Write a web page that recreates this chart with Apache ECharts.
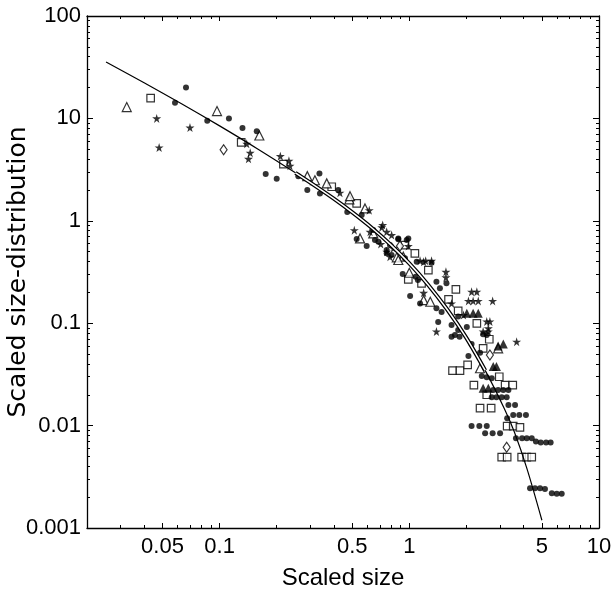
<!DOCTYPE html>
<html>
<head>
<meta charset="utf-8">
<script src="https://cdn.jsdelivr.net/npm/echarts@6/dist/echarts.min.js"></script>
<style>
html,body{margin:0;padding:0;background:#fff;}
#chart{width:611px;height:591px;}
</style>
</head>
<body>
<div id="chart"></div>
<script>
// ---- data ----
const tickX = [0.05, 0.1, 0.5, 1, 5, 10];
const minorX = [0.03,0.04,0.06,0.07,0.08,0.09,0.2,0.3,0.4,0.6,0.7,0.8,0.9,2,3,4,6,7,8,9];
const tickY = [0.001, 0.01, 0.1, 1, 10, 100];
const minorY = [0.002,0.003,0.004,0.005,0.006,0.007,0.008,0.009,
  0.02,0.03,0.04,0.05,0.06,0.07,0.08,0.09,
  0.2,0.3,0.4,0.5,0.6,0.7,0.8,0.9,
  2,3,4,5,6,7,8,9,20,30,40,50,60,70,80,90];

const fitX = [0.0252, 0.04, 0.063, 0.1, 0.158, 0.251, 0.316, 0.398, 0.501, 0.631, 0.794, 1.0, 1.259, 1.585, 1.995, 2.512, 3.162, 3.58, 4.17, 5.0];
const fitY = [35.5, 22.3, 13.9, 8.45, 5.06, 2.94, 2.22, 1.655, 1.21, 0.861, 0.589, 0.384, 0.2366, 0.136, 0.0723, 0.0346, 0.01476, 0.00865, 0.0038, 0.00119];

const circles = [
  [0.0665,20.0],[0.0582,14.2],[0.0861,9.46],[0.112,10.0],[0.132,8.08],[0.157,7.5],
  [0.175,2.86],[0.200,2.57],[0.260,2.73],[0.290,2.0],
  [0.336,2.90],[0.338,1.85],[0.422,2.0],[0.471,1.22],[0.561,1.14],[0.528,0.663],[0.596,0.567],
  [0.659,0.648],[0.687,0.624],[0.760,0.518],[0.807,0.463],[0.969,0.648],[0.875,0.659],
  [0.646,0.811],[0.875,0.673],[0.988,0.673],[0.791,0.579],[0.760,0.481],[0.949,0.43],
  [1.094,0.398],[1.31,0.389],[0.923,0.302],[1.08,0.284],[1.11,0.264],[1.39,0.254],[1.57,0.245],
  [1.01,0.184],[1.45,0.219],[1.14,0.156],[1.39,0.14],[1.48,0.129],[1.81,0.116],[1.42,0.103],
  [1.67,0.096],[1.74,0.0767],[2.01,0.092],[1.81,0.0859],[2.45,0.078],[2.56,0.0765],[1.67,0.0738],
  [1.84,0.0738],[2.13,0.0627],[2.36,0.0515],[2.05,0.0479],
  [2.41,0.0305],[2.56,0.0296],[2.72,0.029],
  [2.77,0.0223],[2.94,0.0223],[3.13,0.0223],[3.33,0.0223],
  [2.72,0.0189],[2.88,0.0189],[3.07,0.0189],[3.26,0.0189],
  [3.33,0.0159],[3.61,0.0159],[3.53,0.0127],[3.80,0.0127],[4.12,0.0127],[3.28,0.0118],
  [2.13,0.00993],[2.34,0.00993],[2.56,0.00993],
  [2.51,0.00843],[2.75,0.00843],[3.01,0.00843],
  [3.65,0.00754],[3.93,0.00754],[4.16,0.00754],[4.42,0.00754],[4.65,0.00698],
  [4.93,0.00683],[5.26,0.00683],[5.56,0.00683],
  [4.33,0.00245],[4.60,0.00245],[4.89,0.00245],[5.19,0.0024],[5.64,0.00219],[5.99,0.00216],[6.36,0.00216]
];
const stars = [
  [0.0466,10.0],[0.0698,8.15],[0.048,5.2],[0.139,5.64],[0.145,4.61],[0.142,4.03],
  [0.209,4.28],[0.232,3.85],[0.235,3.44],
  [0.431,1.88],[0.615,1.27],[0.513,0.81],[0.621,0.78],[0.716,0.862],[0.760,0.78],[0.807,0.725],
  [0.707,0.593],[0.824,0.538],[0.988,0.567],[0.724,0.908],[0.760,0.499],[0.791,0.446],
  [1.14,0.407],[1.22,0.407],[1.31,0.407],[1.19,0.398],[1.56,0.318],[1.56,0.28],[1.19,0.198],
  [2.13,0.203],[2.27,0.203],[2.75,0.165],[1.67,0.156],[2.05,0.165],[2.17,0.165],[2.31,0.165],
  [1.93,0.12],[1.39,0.083],[2.56,0.104],[2.66,0.104],[2.61,0.089],[2.45,0.083],[2.61,0.083],[3.68,0.066]
];
const triangles = [
  [0.0324,12.9],[0.0969,11.8],[0.162,6.81],[0.290,2.73],[0.318,2.49],[0.367,2.32],[0.483,1.62],
  [0.487,1.74],[0.584,1.32],[0.550,0.673],[0.646,0.753],[0.859,0.44],[0.930,0.446],[0.875,0.414],
  [1.0,0.311],[1.19,0.168],[1.29,0.162],[2.36,0.0363],[2.94,0.0569]
];
const filledTriangles = [
  [2.01,0.125],[2.17,0.125],[2.31,0.125],[2.94,0.06],[3.13,0.0627],[2.77,0.0377],[2.88,0.0377],
  [2.45,0.0232],[2.61,0.0232]
];
const squares = [
  [0.0433,15.8],[0.130,5.82],[0.217,3.57],[0.390,2.15],[0.528,1.48],[0.949,0.579],[1.07,0.481],
  [1.26,0.33],[0.988,0.268],[1.16,0.245],[1.76,0.214],[1.61,0.171],[1.81,0.132],[2.27,0.0998],
  [2.64,0.0697],[2.45,0.0569],[1.69,0.0344],[1.85,0.0344],[2.03,0.0391],[2.98,0.030],[2.19,0.0249],
  [3.2,0.0249],[3.51,0.0249],[2.56,0.02],[2.36,0.0148],[2.70,0.0148],[3.28,0.0099],[3.53,0.0099],
  [3.83,0.0096],[3.07,0.00492],[3.28,0.00492],[3.91,0.00492],[4.16,0.00492],[4.42,0.00492]
];
const diamonds = [[0.105,4.93],[0.893,0.567],[2.66,0.049],[3.26,0.00615]];

const xTitle = 'Scaled size';
const yTitle = 'Scaled size-distribution';

// ---- chart ----
const FONT = 'Liberation Sans, Arial, Helvetica, sans-serif';
const fitData = fitX.map((x, i) => [x, fitY[i]]);
const fitMid = fitData.filter(p => p[0] >= 0.25 && p[0] <= 2.6);
const starPath = 'path://M50,0 L61,35 L98,35 L68,57 L79,91 L50,70 L21,91 L32,57 L2,35 L39,35 Z';
const fmt = v => String(+(+v).toPrecision(3));

function xAxisCfg(pos, ticks, len, labels, line) {
  return {
    type: 'log', logBase: 10, min: 0.02, max: 10, position: pos, gridIndex: 0,
    axisLine: { show: line, onZero: false, lineStyle: { color: '#000', width: 1.3 } },
    axisTick: { show: true, inside: true, length: len, customValues: ticks, lineStyle: { color: '#000', width: 1 } },
    axisLabel: labels ? { show: true, customValues: ticks, color: '#000', fontSize: 22, fontFamily: FONT, margin: 8, formatter: fmt } : { show: false },
    splitLine: { show: false }, minorTick: { show: false }
  };
}
function yAxisCfg(pos, ticks, len, labels, line) {
  return {
    type: 'log', logBase: 10, min: 0.001, max: 100, position: pos, gridIndex: 0,
    axisLine: { show: line, onZero: false, lineStyle: { color: '#000', width: 1.3 } },
    axisTick: { show: true, inside: true, length: len, customValues: ticks, lineStyle: { color: '#000', width: 1 } },
    axisLabel: labels ? { show: true, customValues: ticks, color: '#000', fontSize: 22, fontFamily: FONT, margin: 6, formatter: fmt } : { show: false },
    splitLine: { show: false }, minorTick: { show: false }
  };
}

const xMain = xAxisCfg('bottom', tickX, 5, true, true);
xMain.name = xTitle; xMain.nameLocation = 'middle'; xMain.nameGap = 38;
xMain.nameTextStyle = { color: '#000', fontSize: 24, fontFamily: FONT };
const yMain = yAxisCfg('left', tickY, 6, true, true);
yMain.name = yTitle; yMain.nameLocation = 'middle'; yMain.nameGap = 56;
yMain.nameMoveOverlap = false;
yMain.nameTextStyle = { color: '#000', fontSize: 25, fontFamily: 'DejaVu Sans, ' + FONT };

const chart = echarts.init(document.getElementById('chart'), null, { renderer: 'canvas' });
const openStyle = { color: '#fff', borderColor: '#000', borderWidth: 1.2 };
chart.setOption({
  backgroundColor: '#fff',
  animation: false,
  grid: { left: 87, right: 12, top: 16, bottom: 63, containLabel: false, outerBoundsMode: 'none' },
  xAxis: [
    xMain,
    xAxisCfg('bottom', minorX, 3, false, false),
    xAxisCfg('top', tickX, 5, false, true),
    xAxisCfg('top', minorX, 3, false, false)
  ],
  yAxis: [
    yMain,
    yAxisCfg('left', minorY, 3, false, false),
    yAxisCfg('right', tickY, 6, false, true),
    yAxisCfg('right', minorY, 3, false, false)
  ],
  series: [
    { type: 'scatter', name: 'squares', data: squares, symbol: 'rect', symbolSize: 7.5, itemStyle: openStyle },
    { type: 'scatter', name: 'triangles', data: triangles, symbol: 'triangle', symbolSize: 9, itemStyle: openStyle },
    { type: 'scatter', name: 'diamonds', data: diamonds, symbol: 'diamond', symbolSize: [7, 10], itemStyle: openStyle },
    { type: 'scatter', name: 'circles', data: circles, symbol: 'circle', symbolSize: 6, itemStyle: { color: '#000' } },
    { type: 'scatter', name: 'filledTriangles', data: filledTriangles, symbol: 'triangle', symbolSize: 9, itemStyle: { color: '#000' } },
    { type: 'scatter', name: 'stars', data: stars, symbol: starPath, symbolSize: 9, itemStyle: { color: '#000' } },
    { type: 'line', name: 'fit', data: fitData, symbol: 'none', smooth: 0.3, lineStyle: { color: '#000', width: 1.2 }, z: 5 },
    { type: 'line', name: 'fitOuter', data: fitMid, symbol: 'none', smooth: 0.3, lineStyle: { color: '#000', width: 4 }, z: 6 },
    { type: 'line', name: 'fitInner', data: fitMid, symbol: 'none', smooth: 0.3, lineStyle: { color: '#fff', width: 1.5 }, z: 7 }
  ]
});
</script>
</body>
</html>
